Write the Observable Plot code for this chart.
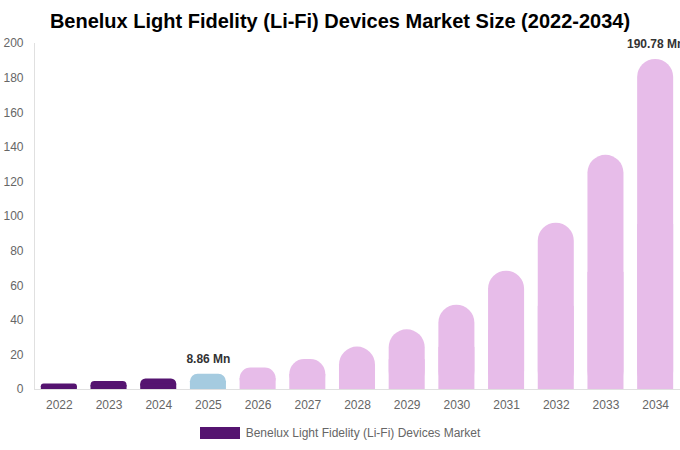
<!DOCTYPE html>
<html><head><meta charset="utf-8">
<script src="https://cdn.jsdelivr.net/npm/d3@7"></script>
<script src="https://cdn.jsdelivr.net/npm/@observablehq/plot@0.6"></script>
<style>
body{margin:0;background:#fff;font-family:"Liberation Sans",Arial,sans-serif;width:680px;height:450px;overflow:hidden}
#title{height:25px;padding-top:11px;text-align:center;font-weight:bold;font-size:20px;line-height:20px;color:#000;white-space:nowrap}
#legend{display:flex;justify-content:center;align-items:center;margin-top:10px;font-size:12px;color:#666}
#legend .sw{width:40px;height:12px;margin-right:6px}
svg{overflow:visible}
</style>
</head><body>
<div id="title">Benelux Light Fidelity (Li-Fi) Devices Market Size (2022-2034)</div>
<div id="chart"></div>
<div id="legend"><div class="sw" id="sw"></div><span id="legtext"></span></div>
<script>
const years = ["2022","2023","2024","2025","2026","2027","2028","2029","2030","2031","2032","2033","2034"];
const values = [3.2, 4.6, 6.1, 8.86, 12.4, 17.3, 24.5, 34.5, 48.7, 68.4, 96.1, 135.4, 190.78];
const phases = ["hist","hist","hist","base","fc","fc","fc","fc","fc","fc","fc","fc","fc"];
const labeledYears = ["2025","2034"];
const seriesName = "Benelux Light Fidelity (Li-Fi) Devices Market";
const yTicks = [0,20,40,60,80,100,120,140,160,180,200];

const phaseDomain = ["hist","base","fc"];
const phaseColors = ["#551470","#a5cbe0","#e7bce9"];

const data = years.map((y,i)=>({year:y, value:values[i], phase:phases[i]}));

const chart = Plot.plot({
  width: 680,
  height: 380,
  marginTop: 7,
  marginBottom: 27,
  marginLeft: 34,
  marginRight: 0,
  style: {fontFamily: '"Liberation Sans", Arial, sans-serif', fontSize: "12px", color: "#666", overflow: "visible"},
  x: {domain: years, paddingInner: 0.275, paddingOuter: 0.1375, round: false, label: null},
  y: {domain: [0,200], label: null},
  color: {domain: phaseDomain, range: phaseColors},
  marks: [
    Plot.frame({anchor: "left", stroke: "#e0e0e0"}),
    Plot.ruleY([0], {stroke: "#e0e0e0"}),
    Plot.barY(data, {x: "year", y: "value", fill: "phase", rx: 18, className: "rbar"}),
    Plot.barY(data, {x: "year", y: d => d.value/2, fill: "phase"}),
    Plot.text(data.filter(d => labeledYears.includes(d.year)), {
      x: "year", y: "value", text: d => d.value.toFixed(2) + " Mn",
      lineAnchor: "bottom", dy: -11, fontWeight: "bold", fill: "#333", fontSize: 12
    }),
    Plot.axisX({tickSize: 0, tickPadding: 11, fill: "#666", fontSize: 12}),
    Plot.axisY({ticks: yTicks, tickSize: 0, tickPadding: 11, fill: "#666", fontSize: 12})
  ]
});
document.getElementById("chart").appendChild(chart);
// circular corners limited by bar height
d3.select(chart).selectAll(".rbar rect").each(function() {
  const h = +this.getAttribute("height");
  const w = +this.getAttribute("width");
  const r = Math.min(w / 2, h / 2);
  this.setAttribute("rx", r);
  this.setAttribute("ry", r);
});
document.getElementById("sw").style.background = phaseColors[0];
document.getElementById("legtext").textContent = seriesName;
</script>
</body></html>
